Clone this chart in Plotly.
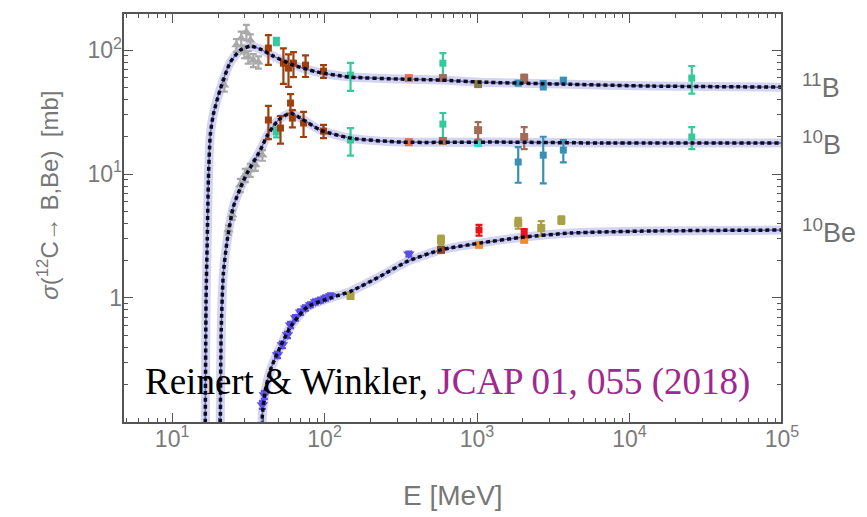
import math
import plotly.graph_objects as go

# ---------------- fit curves (E [MeV], sigma [mb]) ----------------
E_fit_11B = [16.4, 16.5, 16.7, 17.0, 17.3, 17.8, 18.6, 20.7, 24.1, 28.0, 32.6, 37.9, 46.1, 62.5, 90, 148, 316, 580, 1062, 3572, 13960, 100000]
S_fit_11B = [0.0235, 0.098, 0.96, 2.94, 8.95, 20.6, 29.9, 48.5, 80, 100, 108, 102, 89.5, 75.7, 66.5, 60.6, 58.4, 57.3, 55.2, 53.2, 51.3, 50.3]

E_fit_10B = [20.5, 20.7, 21.0, 21.7, 23.0, 25.2, 28.0, 31.1, 37.9, 42.2, 49.8, 59.8, 69.5, 94.2, 148, 316, 1438, 6550, 100000]
S_fit_10B = [0.0235, 0.098, 0.552, 1.59, 2.94, 5.42, 7.71, 10.2, 15.6, 20.6, 27.3, 31.0, 28.3, 22.6, 19.5, 18.1, 18.1, 17.8, 17.8]

E_fit_10Be = [38.8, 39.1, 40.9, 44.2, 49.1, 59.8, 77, 109.5, 148, 233, 352, 580, 1062, 2038, 4150, 13960, 100000]
S_fit_10Be = [0.0716, 0.114, 0.181, 0.263, 0.36, 0.584, 0.846, 1.0, 1.13, 1.5, 1.98, 2.44, 2.78, 3.1, 3.34, 3.47, 3.53]

# ---------------- measurements (E [MeV], sigma [mb], error [mb]) ----------------
gray_E = [22.0, 26.4, 28.4, 30.7, 32.6, 29.8, 34.1, 36.8, 31.6, 23.4, 24.8, 28.0, 30.2, 32.6, 35.2, 39.1]
gray_S = [52.2, 110, 125, 140, 120, 96, 83, 80, 88, 3.54, 4.67, 8.15, 9.8, 10.8, 11.8, 14.2]
gray_err = [6, 13, 16, 20, 14, 10, 10, 9, 10, 0.3, 0.4, 1.0, 1.2, 1.3, 1.2, 1.4]

rust_E = [42.8, 53.7, 58.0, 62.5, 75, 98.4, 42.8, 51.4, 59.8, 61.5, 72.8, 98.4]
rust_S = [104, 78.5, 71.6, 78.5, 75.7, 67.7, 27.3, 23.5, 37.4, 28.3, 25.8, 22.2]
rust_err = [28, 25, 21, 18, 15, 8, 8.2, 5.9, 6.7, 4.5, 5.9, 2.7]

teal_E = [48.3, 148, 597, 25600, 48.3, 148, 597, 25600]
teal_S = [118, 62.9, 78.5, 59.5, 21.8, 18.8, 25.3, 19.9]
teal_err = [8, 16, 16, 15, 2, 4.7, 5.8, 4]

cyan_E = [1016]
cyan_S = [17.8]

salmon_E = [357, 357]
salmon_S = [59.5, 18.1]

mauve_E = [597, 2038, 1016, 2038, 597]
mauve_S = [59.5, 59.5, 22.6, 19.9, 18.5]
mauve_err = [0, 4, 3.6, 4, 0]

olivebrown_E = [1016]
olivebrown_S = [53.2]

blue_E = [1862, 2717, 3680, 1862, 2717, 3680]
blue_S = [54.2, 52.2, 57.3, 12.5, 14.2, 15.6]
blue_err = [2, 4, 2, 4, 5.8, 3.2]

violet_E = [39.1, 40.3, 49.1, 52.9, 57.1, 59.8, 64.5, 69.5, 75, 80.9, 87.3, 94.2, 101.6, 109.5, 357]
violet_S = [0.137, 0.165, 0.347, 0.418, 0.503, 0.605, 0.69, 0.77, 0.83, 0.88, 0.93, 0.96, 1.0, 1.04, 2.26]
violet_err = [0.01, 0.012, 0.02, 0.025, 0.03, 0.035, 0.035, 0.04, 0.04, 0.04, 0.045, 0.045, 0.05, 0.05, 0.1]

olive_E = [148, 580, 1862, 2636, 3572]
olive_S = [1.04, 2.94, 4.03, 3.67, 4.25]
olive_err = [0.06, 0.25, 0.4, 0.5, 0.3]

red_E = [1030, 2038]
red_S = [3.53, 3.34]
red_err = [0.35, 0.25]

orange_E = [1030, 2038]
orange_S = [2.68, 2.94]

brown_E = [580]
brown_S = [2.44]

x_range_log = [0.678, 5.0]
y_range_log = [-1.01, 2.30]
x_tickvals = [10, 100, 1000, 10000, 100000]
x_ticktext = ["10<sup>1</sup>", "10<sup>2</sup>", "10<sup>3</sup>", "10<sup>4</sup>", "10<sup>5</sup>"]
x_minor = [m * 10 ** d for d in range(0, 5) for m in range(2, 10) if m * 10 ** d > 4.8]
y_tickvals = [1, 10, 100]
y_ticktext = ["1", "10<sup>1</sup>", "10<sup>2</sup>"]
y_minor = [m * 10 ** d for d in range(-1, 3) for m in range(2, 10) if m * 10 ** d < 199]

labels = ["<sup>11</sup>B", "<sup>10</sup>B", "<sup>10</sup>Be"]
label_S = [51.3, 17.9, 3.45]

fig = go.Figure()

for E, S in [(E_fit_11B, S_fit_11B), (E_fit_10B, S_fit_10B), (E_fit_10Be, S_fit_10Be)]:
    fig.add_trace(go.Scatter(x=E, y=S, mode="lines", line=dict(color="rgba(150,150,225,0.42)", width=9, shape="spline", smoothing=0.6), hoverinfo="skip"))
    fig.add_trace(go.Scatter(x=E, y=S, mode="lines", line=dict(color="#6a6ab0", width=1.5, shape="spline", smoothing=0.6), hoverinfo="skip"))


def pts(E, S, color, err=None, symbol="square", size=7):
    tr = go.Scatter(x=E, y=S, mode="markers",
                    marker=dict(color=color, symbol=symbol, size=size, line=dict(width=0)),
                    hoverinfo="skip")
    if err is not None:
        tr.error_y = dict(type="data", array=err, visible=True, color=color, thickness=2.2, width=3.5)
    fig.add_trace(tr)


pts(gray_E, gray_S, "#a9a9a9", gray_err, symbol="triangle-up", size=9)
pts(teal_E, teal_S, "#35c99b", teal_err)
pts(rust_E, rust_S, "#9e400e", rust_err)
pts(cyan_E, cyan_S, "#3fd8c8", size=8)
pts(salmon_E, salmon_S, "#e0734f", size=8)
pts(mauve_E, mauve_S, "#a36b58", mauve_err, size=8)
pts(olivebrown_E, olivebrown_S, "#8a7a48", size=8)
pts(blue_E, blue_S, "#3a8fb5", blue_err)
pts(olive_E, olive_S, "#aaa045", olive_err, size=8)
pts(orange_E, orange_S, "#e8902a", size=8)
pts(brown_E, brown_S, "#8b4a2a", size=8)
pts(red_E, red_S, "#e3171b", red_err)
pts(violet_E, violet_S, "#5b4ee6", violet_err, symbol="triangle-down", size=10)

# black dashed fit lines on top
for E, S in [(E_fit_11B, S_fit_11B), (E_fit_10B, S_fit_10B), (E_fit_10Be, S_fit_10Be)]:
    fig.add_trace(go.Scatter(x=E, y=S, mode="lines", line=dict(color="#0a0a20", width=3.5, dash="4px,3px", shape="spline", smoothing=0.6), hoverinfo="skip"))

# invisible traces anchoring the top / right tick-mark axes
for ax_x, ax_y in [("x2", "y2"), ("x3", "y3")]:
    fig.add_trace(go.Scatter(x=[x_tickvals[1]], y=[y_tickvals[0]], xaxis=ax_x, yaxis=ax_y, mode="markers",
                             marker=dict(opacity=0), hoverinfo="skip"))

for txt, s in zip(labels, label_S):
    fig.add_annotation(x=1.027, xref="paper", y=math.log10(s), yref="y", text=txt, showarrow=False,
                       xanchor="left", yanchor="middle", font=dict(family="Liberation Sans, Arial", size=27, color="#707070"))

fig.add_annotation(x=-0.14, xref="paper", y=0.556, yref="paper",
                   text="<i>σ</i>(<sup>12</sup>C→ B,Be)  [mb]", textangle=-90, showarrow=False,
                   font=dict(family="Liberation Sans, Arial", size=24, color="#777777"))

fig.add_annotation(x=0.5, xref="paper", y=-0.178, yref="paper", yanchor="middle",
                   text="E [MeV]", showarrow=False,
                   font=dict(family="Liberation Sans, Arial", size=28, color="#777777"))

fig.add_annotation(x=0.03, xref="paper", y=0.10, yref="paper", xanchor="left", yanchor="middle",
                   text="Reinert &amp; Winkler, <span style='color:#a0288f'>JCAP 01, 055 (2018)</span>",
                   showarrow=False, font=dict(family="Liberation Serif, Times New Roman", size=37, color="black"))

# plot frame
fig.add_shape(type="rect", xref="paper", yref="paper", x0=0, y0=0, x1=1, y1=1,
              line=dict(color="#555555", width=2), fillcolor="rgba(0,0,0,0)", layer="above")

major = dict(ticks="inside", ticklen=10, tickwidth=1.2, tickcolor="#555555")
minor_t = dict(ticks="inside", ticklen=5, tickwidth=1, tickcolor="#555555")
base = dict(type="log", showgrid=False, zeroline=False, showline=False)
hidden = dict(showticklabels=False, tickmode="array")

fig.update_layout(
    width=867, height=517, margin=dict(l=123, r=85, t=13, b=94),
    paper_bgcolor="white", plot_bgcolor="white", showlegend=False,
    xaxis=dict(range=x_range_log, tickmode="array", tickvals=x_tickvals, ticktext=x_ticktext,
               tickfont=dict(family="Liberation Sans, Arial", size=23, color="#7a7a7a"),
               minor=dict(tickmode="array", tickvals=x_minor, showgrid=False, **minor_t), **major, **base),
    yaxis=dict(range=y_range_log, tickmode="array", tickvals=y_tickvals, ticktext=y_ticktext,
               tickfont=dict(family="Liberation Sans, Arial", size=23, color="#7a7a7a"),
               minor=dict(tickmode="array", tickvals=y_minor, showgrid=False, **minor_t), **major, **base),
    xaxis2=dict(range=x_range_log, overlaying="x", side="top", anchor="y2", tickvals=x_tickvals, **hidden, **major, **base),
    yaxis2=dict(range=y_range_log, overlaying="y", side="right", anchor="x2", tickvals=y_tickvals, **hidden, **major, **base),
    xaxis3=dict(range=x_range_log, overlaying="x", side="top", anchor="y3", tickvals=x_minor, **hidden, **minor_t, **base),
    yaxis3=dict(range=y_range_log, overlaying="y", side="right", anchor="x3", tickvals=y_minor, **hidden, **minor_t, **base),
)

fig.write_html("out.html")
